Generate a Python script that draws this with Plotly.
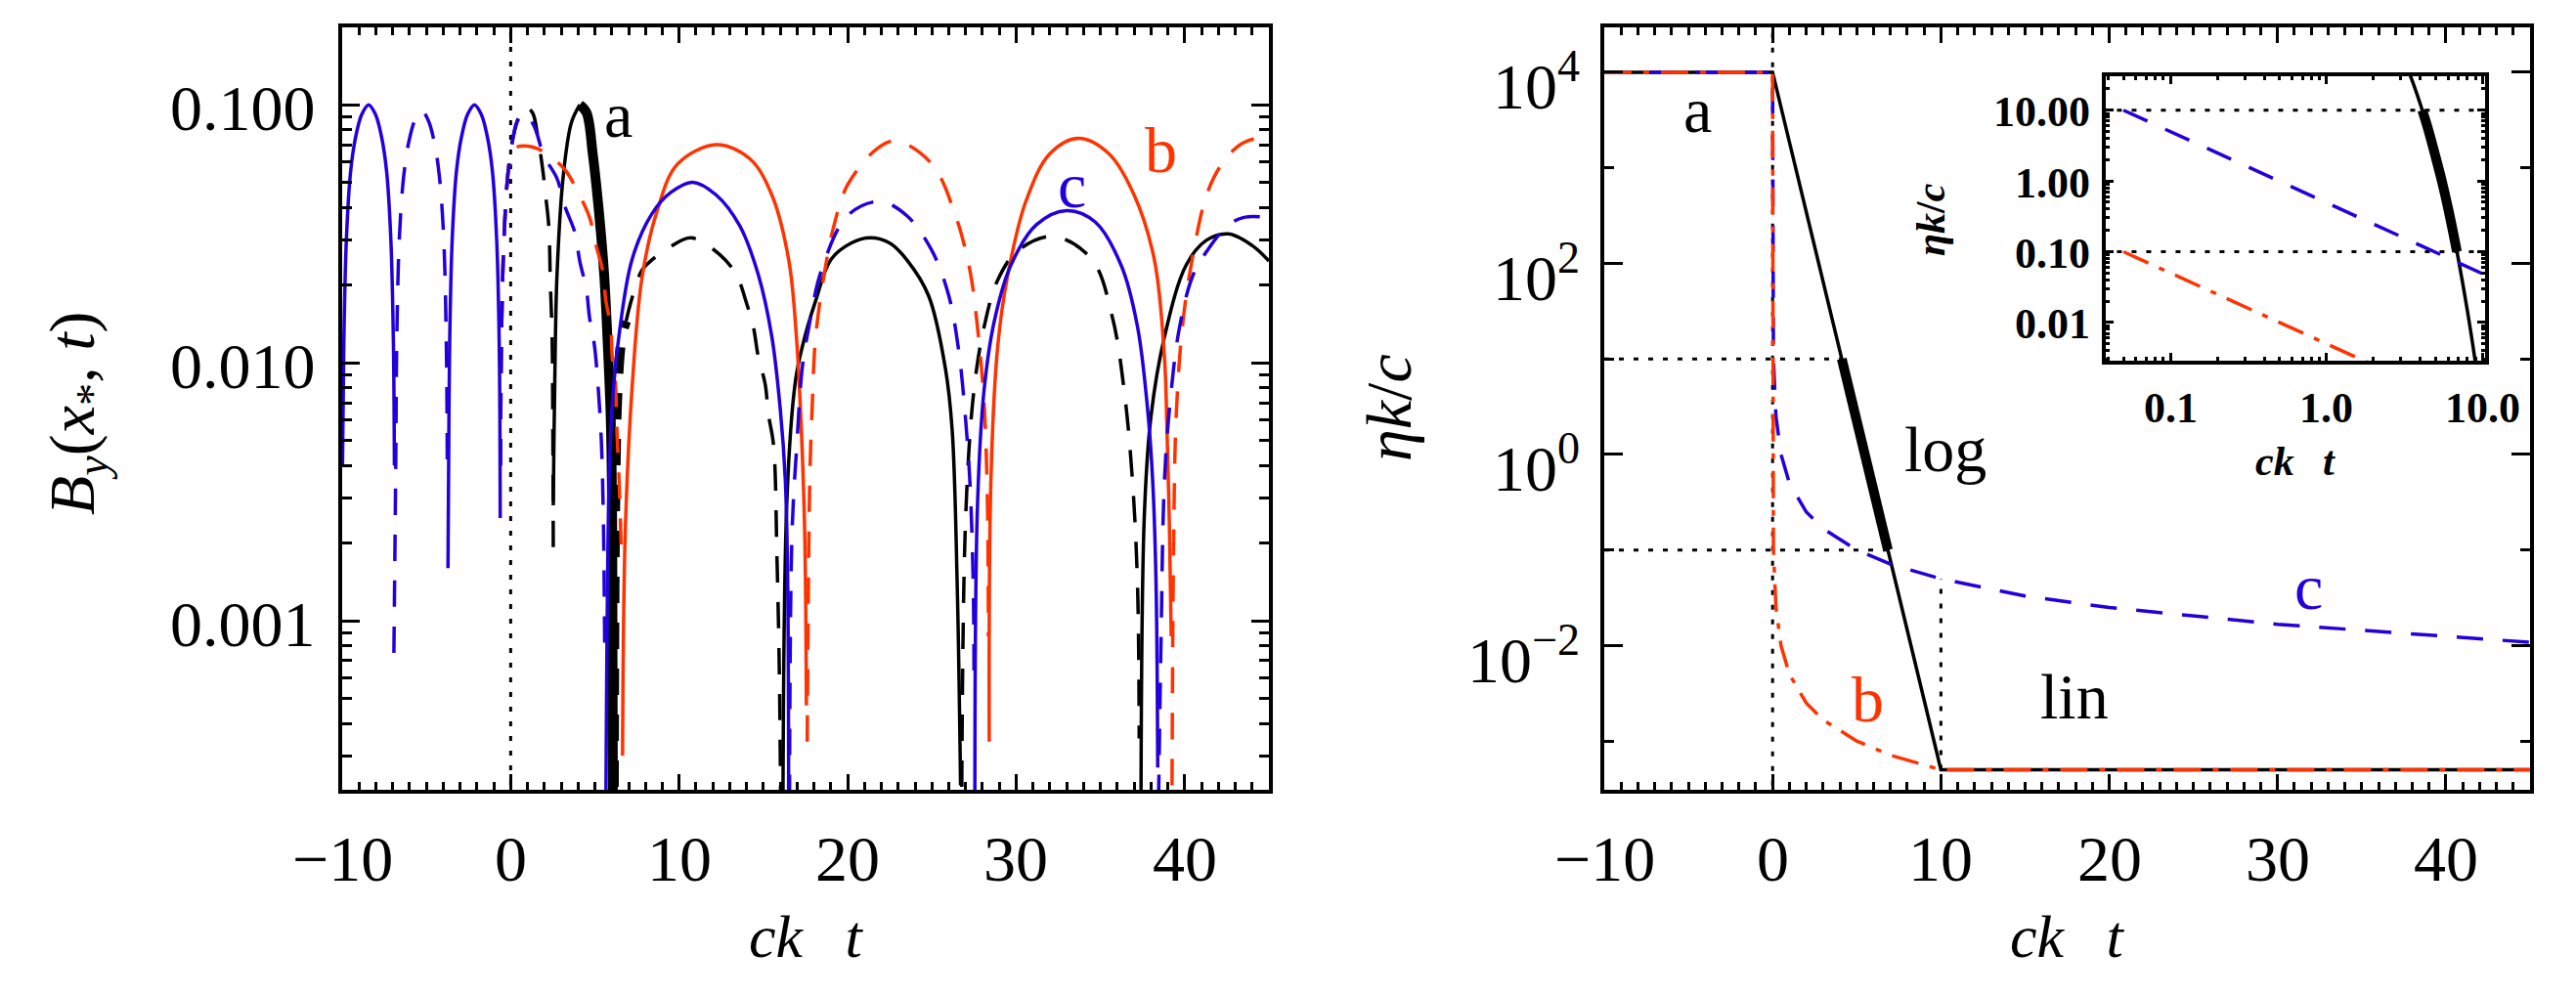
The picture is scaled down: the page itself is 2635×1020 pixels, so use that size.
#!/usr/bin/env python3
"""
Two-panel figure: field amplitude |B_y(x_*, t)| at a fixed point for three
resistivity histories (a, b, c), and the resistivity histories eta*k/c
themselves, with a log-log inset of the early decay.
"""

import math

import plotly.graph_objects as go

RED = '#ff3300'
BLUE = '#2200dd'
FONT = 'Liberation Serif'
DASH = '27px,20px'
DOT = '5px,10px'
DASHDOT = '28px,12px,6px,12px'

# ---- left panel: |B_y|, solid where B_y > 0, dashed where B_y < 0 ----
# incident wave for t < 0, identical for a, b and c (drawn in blue)
PRE_SOLID_T = [-9.98, -9.9, -9.75, -9.5, -9.2, -8.83, -8.43, -8.03, -7.66,
               -7.36, -7.11, -6.96, -6.9, None,
               -3.72, -3.68, -3.62, -3.47, -3.22, -2.92, -2.55, -2.15, -1.75,
               -1.38, -1.08, -0.83, -0.68, -0.62]
PRE_SOLID_B = [0.004, 0.012, 0.03, 0.055, 0.075, 0.092, 0.1, 0.092, 0.075,
               0.055, 0.03, 0.012, 0.004, None,
               0.0016, 0.004, 0.012, 0.03, 0.055, 0.075, 0.092, 0.1, 0.092,
               0.075, 0.055, 0.03, 0.012, 0.0025]
PRE_DASH_T = [-6.93, -6.82, -6.76, -6.61, -6.36, -6.06, -5.69, -5.29, -4.89,
              -4.52, -4.22, -3.97, -3.82, -3.76]
PRE_DASH_B = [0.00075, 0.004, 0.012, 0.03, 0.052, 0.071, 0.087, 0.095, 0.087,
              0.071, 0.052, 0.03, 0.012, 0.004]

# run a (black)
A_SOLID_T = [2.53, 2.56, 2.62, 2.75, 3.13, 3.6, 4.1, None,
             16.15, 16.4, 16.9, 17.3, 18.1, 19.0, 20.2, 21.35, 22.5, 23.5,
             24.8, 25.8, 26.2, 26.5, 26.7, None,
             37.4, 37.6, 38.0, 38.8, 40.1, 41.3, 42.6, 44.0, 45.0]
A_SOLID_B = [0.0028, 0.0045, 0.0087, 0.0219, 0.0537, 0.0851, 0.1, None,
             0.0001, 0.003, 0.0085, 0.0115, 0.0174, 0.0251, 0.0291, 0.0305,
             0.0291, 0.0251, 0.0182, 0.0095, 0.0055, 0.00138, 0.00023, None,
             0.0001, 0.0025, 0.0062, 0.0126, 0.024, 0.0299, 0.0316, 0.0285,
             0.0248]
A_DASH_T = [-0.6, -0.55, -0.4, -0.15, 0.15, 0.5, 0.9, 1.3, 1.6, 1.9, 2.07,
            2.26, 2.36, 2.46, 2.5, 2.53, None,
            6.85, 7.2, 7.8, 8.4, 9.5, 10.7, 12.4, 13.4, 14.0, 14.4, 14.7, 15.1,
            15.3, 15.6, 15.8, 15.95, 16.05, None,
            26.75, 27.0, 27.5, 28.1, 28.9, 30.1, 32.2, 34.5, 35.7, 36.4, 36.9,
            37.2, 37.3]
A_DASH_B = [0.004, 0.012, 0.03, 0.055, 0.075, 0.09, 0.098, 0.093, 0.076,
            0.0562, 0.0447, 0.034, 0.02, 0.0126, 0.006, 0.0018, None,
            0.0145, 0.0178, 0.0229, 0.0251, 0.0282, 0.0305, 0.0263, 0.0219,
            0.017, 0.0138, 0.0105, 0.0083, 0.0063, 0.0048, 0.0018, 0.0006,
            0.0001, None,
            0.0001, 0.0025, 0.0079, 0.0138, 0.0209, 0.0272, 0.0309, 0.0251,
            0.0151, 0.0079, 0.0035, 0.00138, 0.00035]
# part of run a inside the "log" stretch (eta k/c from 10 down to 0.1)
A_THICK_SOLID_T = [4.1, 4.5, 4.87, 5.26, 5.55, 5.74, 5.94, 6.03, 6.08]
A_THICK_SOLID_B = [0.1, 0.0933, 0.0646, 0.0372, 0.0219, 0.0126, 0.006, 0.0022,
                   0.0001]
A_THICK_DASH_T = [6.12, 6.2, 6.35, 6.6, 6.85]
A_THICK_DASH_B = [0.0001, 0.0025, 0.0079, 0.0126, 0.0145]

# run b (red)
B_SOLID_T = [6.64, 6.8, 7.2, 7.8, 8.7, 9.9, 12.2, 14.2, 15.5, 16.5, 16.96,
             17.25, 17.45, 17.55, None,
             28.4, 28.5, 28.9, 29.5, 30.6, 32.0, 33.7, 35.5, 37.0, 38.2, 38.8,
             38.95, 39.1, 39.2]
B_SOLID_B = [0.0003, 0.0022, 0.0079, 0.0215, 0.0389, 0.0589, 0.07, 0.0617,
             0.0447, 0.0251, 0.0126, 0.0055, 0.0022, 0.00047, None,
             0.00034, 0.0035, 0.0115, 0.0219, 0.0427, 0.0646, 0.0741, 0.0646,
             0.0447, 0.0251, 0.0105, 0.0055, 0.0022, 0.00087]
B_DASH_T = [-0.6, -0.55, -0.4, -0.15, 0.0, 0.16, 1.0, 1.9, 3.2, 4.0, 4.7,
            5.07, 5.45, 5.65, 5.94, 6.03, 6.2, 6.3, 6.45, 6.58, None,
            17.6, 17.75, 17.9, 18.1, 18.65, 19.2, 20.0, 21.75, 22.9, 25.0,
            26.4, 27.25, 27.7, 28.1, 28.3, 28.35, None,
            39.25, 39.35, 39.5, 39.9, 40.5, 41.3, 42.2, 43.4, 44.95]
B_DASH_B = [0.004, 0.012, 0.03, 0.055, 0.062, 0.0676, 0.0692, 0.0661, 0.0562,
            0.0457, 0.0363, 0.0285, 0.0229, 0.0174, 0.0138, 0.0105, 0.0087,
            0.0056, 0.0033, 0.0017, None,
            0.00034, 0.0035, 0.0069, 0.0126, 0.0229, 0.0343, 0.049, 0.0676,
            0.0724, 0.0589, 0.0372, 0.0229, 0.0138, 0.0069, 0.00275, 0.00087,
            None,
            0.00023, 0.0022, 0.0063, 0.0145, 0.0263, 0.0447, 0.0589, 0.0708,
            0.0759]

# run c (blue)
C_SOLID_T = [5.63, 5.84, 6.03, 6.42, 7.2, 8.36, 9.5, 10.8, 12.2, 13.6, 14.7,
             15.5, 16.0, 16.3, 16.44, 16.5, None,
             27.55, 27.7, 28.1, 28.7, 29.7, 31.2, 33.0, 34.7, 36.25, 37.2,
             37.8, 38.1, 38.3, 38.4]
C_SOLID_B = [0.0001, 0.00347, 0.00692, 0.0126, 0.0251, 0.0376, 0.0457, 0.0501,
             0.0447, 0.0339, 0.0219, 0.0126, 0.0066, 0.0035, 0.0014, 0.0001,
             None,
             0.0001, 0.00275, 0.0079, 0.0145, 0.024, 0.0343, 0.0389, 0.0351,
             0.0237, 0.0138, 0.0066, 0.0035, 0.0014, 0.00027]
C_DASH_T = [-0.6, -0.55, -0.4, -0.15, 0.15, 0.38, 0.85, 1.4, 1.97, 2.75, 3.23,
            3.81, 4.1, 4.49, 4.68, 4.97, 5.2, 5.38, 5.5, 5.58, None,
            16.55, 16.7, 17.0, 17.3, 17.7, 18.45, 20.0, 21.9, 23.5, 25.0, 26.0,
            26.6, 27.0, 27.25, 27.45, 27.5, None,
            38.45, 38.6, 38.8, 39.15, 39.7, 40.5, 41.3, 42.6, 43.6, 44.6, 45.1]
C_DASH_B = [0.004, 0.012, 0.03, 0.055, 0.075, 0.086, 0.0925, 0.0824, 0.0635,
            0.0518, 0.0402, 0.032, 0.0248, 0.0193, 0.015, 0.0117, 0.0079,
            0.005, 0.0025, 0.0008, None,
            0.0002, 0.0022, 0.005, 0.0095, 0.0138, 0.0229, 0.0372, 0.0422,
            0.0372, 0.0272, 0.0182, 0.011, 0.006, 0.0035, 0.0014, 0.00056,
            None,
            0.0002, 0.00087, 0.0035, 0.0072, 0.0138, 0.0219, 0.027, 0.0343,
            0.0367, 0.0367, 0.036]

# ---- right panel: eta k / c histories ----
ETA_A_T = [-10, 0, 1, 2, 3, 3.5, 4, 4.5, 5, 5.5, 6, 6.5, 7, 8, 9, 10, 45]
ETA_A = [1e4, 1e4, 1860, 350, 65, 28, 12, 5.2, 2.2, 0.97, 0.42, 0.18, 0.078,
         0.0145, 0.0027, 5e-4, 5e-4]
ETA_A_THICK_T = [4.11, 4.5, 5, 5.5, 6, 6.5, 6.85]
ETA_A_THICK = [10, 5.2, 2.2, 0.97, 0.42, 0.18, 0.1]
ETA_B_T = [-10, 0, 0.05, 0.1, 0.2, 0.5, 1, 2, 3, 5, 7, 10, 45]
ETA_B = [1e4, 1e4, 0.1, 0.05, 0.025, 0.01, 0.005, 0.0025, 0.00167, 0.001,
         0.00071, 5e-4, 5e-4]
ETA_C_T = [-10, 0, 0.05, 0.1, 0.2, 0.5, 1, 2, 3, 5, 7, 10, 15, 20, 30, 45]
ETA_C = [1e4, 1e4, 10, 5, 2.5, 1, 0.5, 0.25, 0.167, 0.1, 0.071, 0.05, 0.033,
         0.025, 0.0167, 0.0108]
# dotted guides: levels bounding the "log" stretch and where it ends
GUIDE_LEVELS = [10, 0.1]
GUIDE_ENDS = [4.11, 6.85]
LIN_START = 10

X_TICKS = [-10, 0, 10, 20, 30, 40]
X_TICKTEXT = ['\u221210', '0', '10', '20', '30', '40']
BY_TICKS = [0.001, 0.01, 0.1]
BY_TICKTEXT = ['0.001', '0.010', '0.100']
ETA_TICKS = [1e-2, 1, 1e2, 1e4]
ETA_TICKTEXT = ['10<sup>\u22122</sup>', '10<sup>0</sup>', '10<sup>2</sup>',
                '10<sup>4</sup>']
INSET_X_TICKS = [0.1, 1, 10]
INSET_X_TICKTEXT = ['0.1', '1.0', '10.0']
INSET_Y_TICKS = [0.01, 0.1, 1, 10]
INSET_Y_TICKTEXT = ['0.01', '0.10', '1.00', '10.00']

# page geometry (the page body keeps its default 8 px margin)
OX = OY = 8
W, H = 2619, 1004


def px_x(p):
    return (p - OX) / W


def px_y(p):
    return 1 - (p - OY) / H


def line(x, y, color, xa, ya, dash='solid', width=3.5, shape='linear'):
    return go.Scatter(x=x, y=y, mode='lines', xaxis=xa, yaxis=ya,
                      line=dict(color=color, width=width, dash=dash,
                                shape=shape),
                      showlegend=False, hoverinfo='skip')


def wave(x, y, color, dash='solid', width=3.5):
    return line(x, y, color, 'x', 'y', dash, width, 'spline')


def positive(ts, vs):
    pts = [(t, v) for t, v in zip(ts, vs) if t > 0]
    return [p[0] for p in pts], [p[1] for p in pts]


fig = go.Figure()

# left panel
fig.add_trace(line([0, 0], [1e-5, 1], 'black', 'x', 'y', DOT, 3))
fig.add_trace(wave(A_DASH_T, A_DASH_B, 'black', DASH))
fig.add_trace(wave(A_SOLID_T, A_SOLID_B, 'black'))
fig.add_trace(wave(A_THICK_SOLID_T, A_THICK_SOLID_B, 'black', width=10))
fig.add_trace(wave(A_THICK_DASH_T, A_THICK_DASH_B, 'black', DASH, width=10))
fig.add_trace(wave(B_DASH_T, B_DASH_B, RED, DASH))
fig.add_trace(wave(B_SOLID_T, B_SOLID_B, RED))
fig.add_trace(wave(C_DASH_T, C_DASH_B, BLUE, DASH))
fig.add_trace(wave(C_SOLID_T, C_SOLID_B, BLUE))
fig.add_trace(wave(PRE_DASH_T, PRE_DASH_B, BLUE, DASH))
fig.add_trace(wave(PRE_SOLID_T, PRE_SOLID_B, BLUE))

# right panel
fig.add_trace(line([0, 0], [1e-5, 1e6], 'black', 'x2', 'y2', DOT, 3))
for lev, end in zip(GUIDE_LEVELS, GUIDE_ENDS):
    fig.add_trace(line([-10, end], [lev, lev], 'black', 'x2', 'y2', DOT, 3))
fig.add_trace(line([LIN_START, LIN_START],
                   [ETA_B[-1], ETA_C[ETA_C_T.index(LIN_START)]],
                   'black', 'x2', 'y2', DOT, 3))
fig.add_trace(line(ETA_A_T, ETA_A, 'black', 'x2', 'y2'))
fig.add_trace(line(ETA_A_THICK_T, ETA_A_THICK, 'black', 'x2', 'y2', width=10))
fig.add_trace(line(ETA_C_T, ETA_C, BLUE, 'x2', 'y2', DASH))
fig.add_trace(line(ETA_B_T, ETA_B, RED, 'x2', 'y2', DASHDOT))

# inset (log-log)
for lev in GUIDE_LEVELS:
    fig.add_trace(line([0.01, 20], [lev, lev], 'black', 'x3', 'y3', DOT, 3))
fig.add_trace(line(*positive(ETA_A_T, ETA_A), 'black', 'x3', 'y3',
                   shape='spline'))
fig.add_trace(line(ETA_A_THICK_T, ETA_A_THICK, 'black', 'x3', 'y3', width=10,
                   shape='spline'))
fig.add_trace(line(*positive(ETA_C_T, ETA_C), BLUE, 'x3', 'y3', DASH))
fig.add_trace(line(*positive(ETA_B_T, ETA_B), RED, 'x3', 'y3', DASHDOT))


def frame(**kw):
    base = dict(showline=True, linecolor='black', linewidth=3.5,
                mirror='ticks', ticks='inside', tickcolor='black',
                tickwidth=3, showgrid=False, zeroline=False,
                showticklabels=False, tickmode='array')
    base.update(kw)
    return base


def minor(vals, length):
    return dict(tickmode='array', tickvals=vals, ticks='inside',
                ticklen=length, tickwidth=3, tickcolor='black')


def log_minor(lo, hi):
    return [k * 10.0 ** e for e in range(lo, hi) for k in range(2, 10)]


PANEL_Y = [px_y(808), px_y(28)]

fig.update_layout(
    width=W, height=H, autosize=False,
    margin=dict(l=0, r=0, t=0, b=0),
    paper_bgcolor='white', plot_bgcolor='white',
    hovermode=False,
    xaxis=frame(domain=[px_x(350), px_x(1298)], range=[-10, 45],
                anchor='y', tickvals=X_TICKS, ticklen=16,
                minor=minor(list(range(-10, 46)), 8)),
    yaxis=frame(domain=PANEL_Y, type='log', range=[-3.655, -0.70],
                anchor='x', tickvals=BY_TICKS, ticklen=18,
                minor=minor(log_minor(-4, 0), 10)),
    xaxis2=frame(domain=[px_x(1641), px_x(2588)], range=[-10, 45],
                 anchor='y2', tickvals=X_TICKS, ticklen=16,
                 minor=minor(list(range(-10, 46)), 8)),
    yaxis2=frame(domain=PANEL_Y, type='log', range=[-3.51, 4.47],
                 anchor='x2', tickvals=ETA_TICKS, ticklen=19,
                 minor=minor([1e-3, 1e-1, 10, 1e3], 10)),
    xaxis3=frame(domain=[px_x(2154), px_x(2542)], type='log',
                 range=[-1.414, 1.016], anchor='y3', tickvals=INSET_X_TICKS,
                 ticklen=8, minor=minor(log_minor(-2, 2), 4)),
    yaxis3=frame(domain=[px_y(369), px_y(78)], type='log',
                 range=[-2.54, 1.48], anchor='x3', tickvals=INSET_Y_TICKS,
                 ticklen=8, minor=minor(log_minor(-3, 2), 4)),
)


def text(s, x, y, xref, yref, size=66, color='black', angle=0,
         xanchor='center', yshift=0):
    fig.add_annotation(text=s, x=x, y=y, xref=xref, yref=yref,
                       showarrow=False, textangle=angle, xanchor=xanchor,
                       yanchor='middle', yshift=yshift,
                       font=dict(family=FONT, size=size, color=color))


# tick labels
for ax in ('x', 'x2'):
    for v, s in zip(X_TICKS, X_TICKTEXT):
        text(s, v, px_y(878), ax, 'paper')
for v, s in zip(BY_TICKS, BY_TICKTEXT):
    text(s, px_x(325), math.log10(v), 'paper', 'y', xanchor='right',
         yshift=-3)
for v, s in zip(ETA_TICKS, ETA_TICKTEXT):
    text(s, px_x(1618), math.log10(v), 'paper', 'y2', xanchor='right',
         yshift=-10)
for v, s in zip(INSET_X_TICKS, INSET_X_TICKTEXT):
    text('<b>%s</b>' % s, math.log10(v), px_y(417), 'x3', 'paper', size=44)
for v, s in zip(INSET_Y_TICKS, INSET_Y_TICKTEXT):
    text('<b>%s</b>' % s, px_x(2140), math.log10(v), 'paper', 'y3', size=44,
         xanchor='right', yshift=-2)

# curve labels
text('a', 6.4, -1.04, 'x', 'y')
text('b', 38.6, -1.175, 'x', 'y', color=RED)
text('c', 33.3, -1.31, 'x', 'y', color=BLUE)
text('a', -4.48, 3.61, 'x2', 'y2')
text('log', 10.27, 0.056, 'x2', 'y2')
text('c', 31.87, -1.39, 'x2', 'y2', color=BLUE)
text('b', 5.68, -2.56, 'x2', 'y2', color=RED)
text('lin', 17.93, -2.53, 'x2', 'y2')

# axis titles
CKT = '<i>ck</i>\u2002\u2009<i>t</i>'
text(CKT, px_x(824), px_y(958), 'paper', 'paper', size=62)
text(CKT, px_x(2114), px_y(958), 'paper', 'paper', size=62)
text('<i>B</i><sub><i>y</i></sub>(<i>x</i><sub>*</sub>, <i>t</i>)',
     px_x(78), px_y(423), 'paper', 'paper', angle=-90)
text('<i>\u03b7k</i>/<i>c</i>', px_x(1420), px_y(417), 'paper', 'paper',
     angle=-90)
text('<b>%s</b>' % CKT, px_x(2348), px_y(472), 'paper', 'paper', size=42)
text('<b><i>\u03b7k</i>/<i>c</i></b>', px_x(1975), px_y(225), 'paper',
     'paper', size=42, angle=-90)

fig.write_html('out.html', config={'displayModeBar': False})
